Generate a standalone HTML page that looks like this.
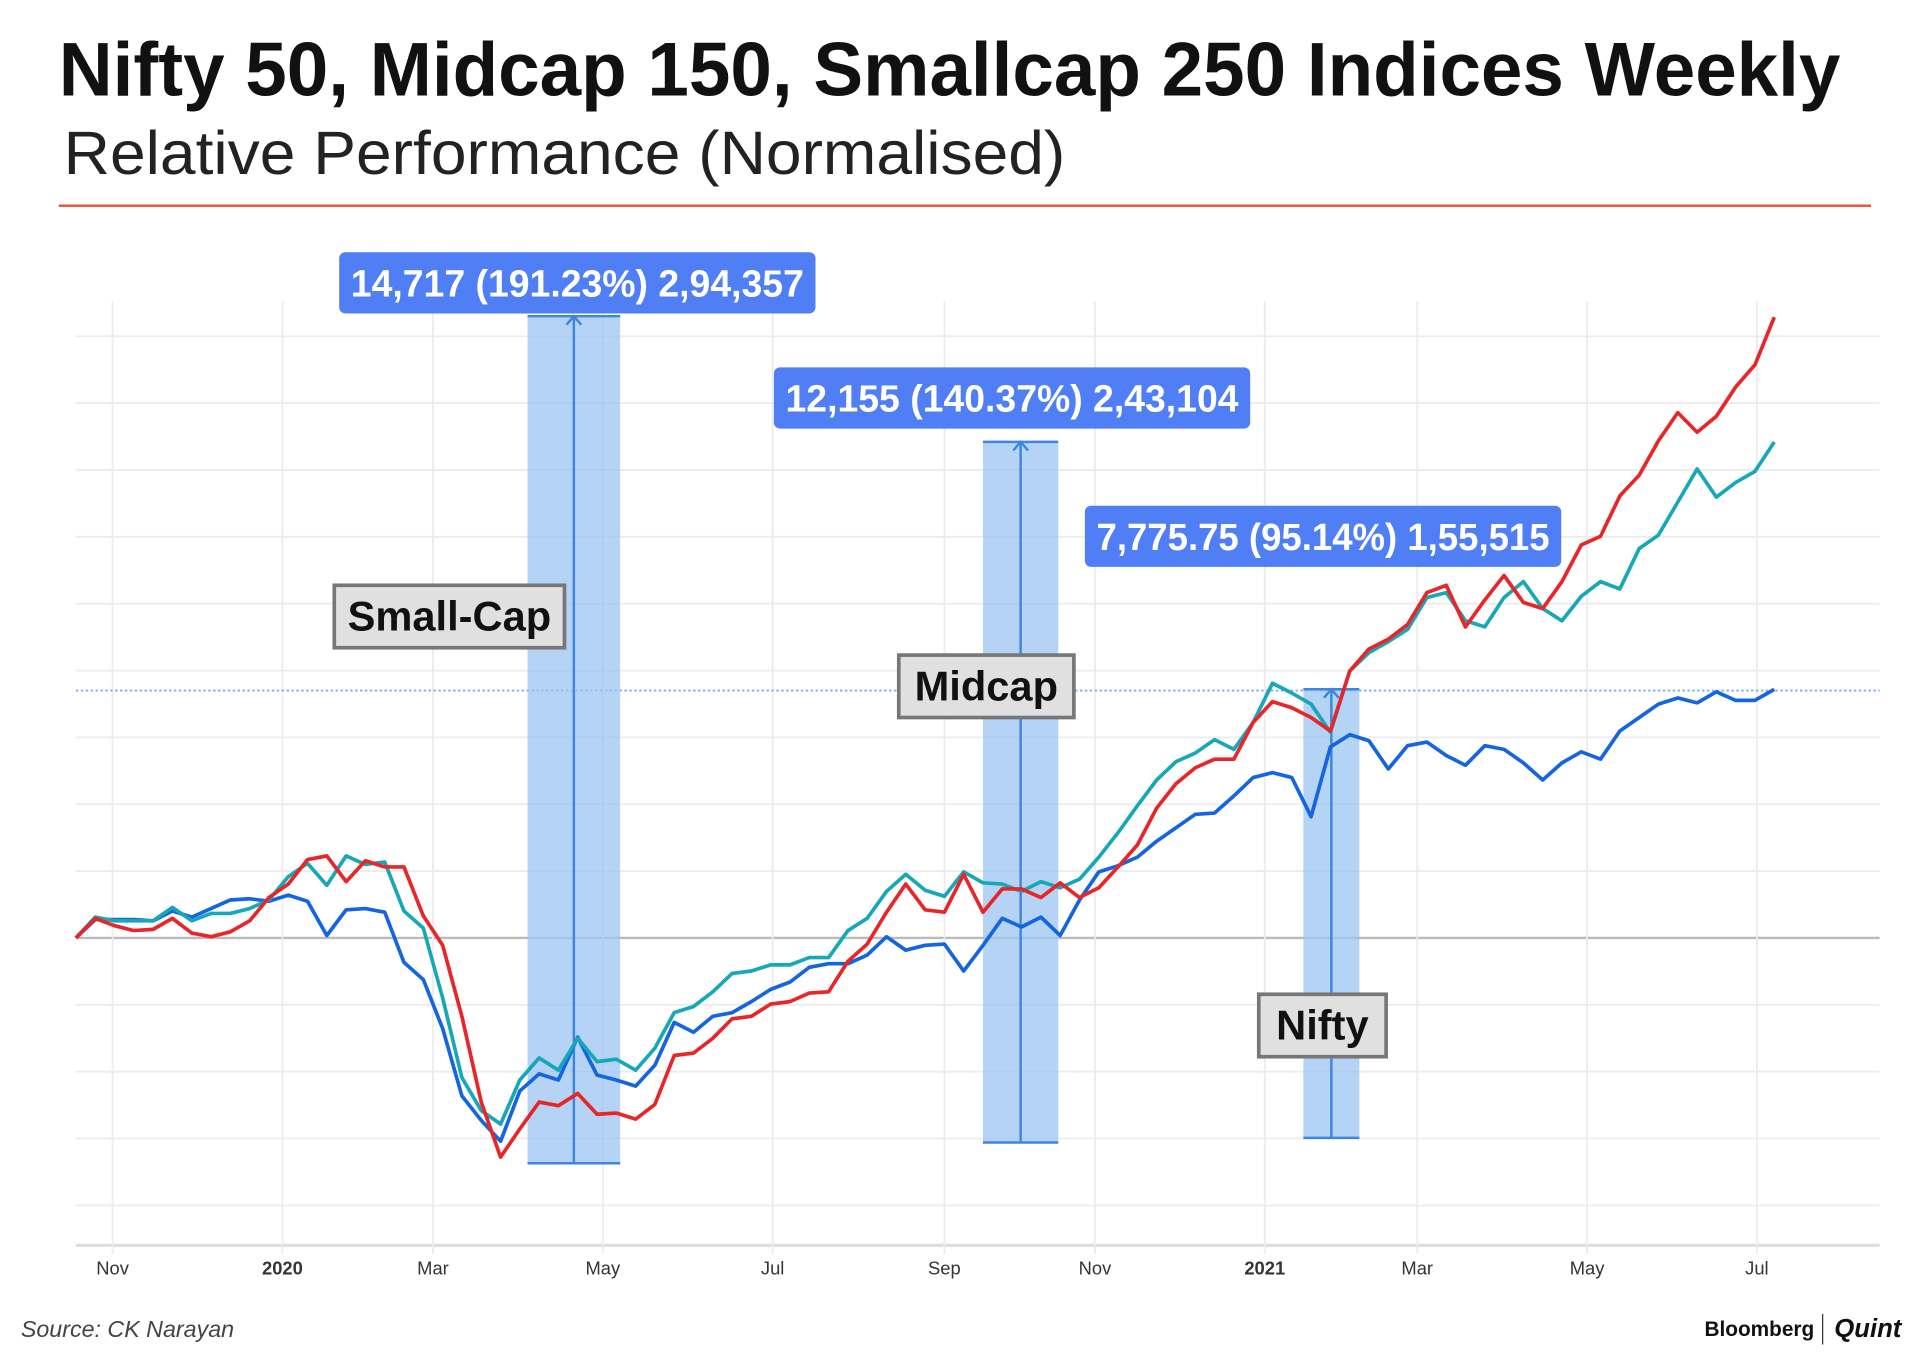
<!DOCTYPE html>
<html><head><meta charset="utf-8"><style>
html,body{margin:0;padding:0;background:#fff;}
svg{display:block;}
text{font-family:"Liberation Sans",sans-serif;}
</style></head><body>
<svg id="chart" width="1920" height="1355" viewBox="0 0 1568 1106.6" xmlns="http://www.w3.org/2000/svg">
<text x="48" y="78" font-size="62" font-weight="bold" fill="#111" textLength="1455" lengthAdjust="spacingAndGlyphs">Nifty 50, Midcap 150, Smallcap 250 Indices Weekly</text>
<text x="52" y="142" font-size="50" fill="#222" textLength="818" lengthAdjust="spacingAndGlyphs">Relative Performance (Normalised)</text>
<rect x="48" y="167" width="1480" height="2" fill="#e8553a"/>
<g id="grid"></g>
<g id="bands"></g>
<g id="lines"></g>
<g id="labels"></g>
<text x="17" y="1092" font-size="19" font-style="italic" fill="#444">Source: CK Narayan</text>
<text x="1392" y="1091" font-size="17" font-weight="bold" fill="#111">Bloomberg</text>
<rect x="1488" y="1073" width="1" height="25" fill="#333"/>
<text x="1498" y="1092" font-size="21" font-style="italic" font-weight="bold" font-family="Liberation Serif" fill="#111">Quint</text>
</svg>
<script>
const xTicks = ["Nov","2020","Mar","May","Jul","Sep","Nov","2021","Mar","May","Jul"];
const xTickIdx = [1.9,10.7,18.5,27.3,36.1,45,52.8,61.6,69.5,78.3,87.1];
const smallcap = [766,750,756,760,759,750,762,765,761,752,733,722,702,699,720,703,708,708,748,772,830,900,945,922,900,903,893,910,909,914,902,862,860,848,832,830,820,818,811,810,785,771,745,722,743,745,714,745,726,726,733,721,733,725,708,690,660,640,627,620,620,590,573,578,586,597,548,530,522,510,484,478,512,490,470,492,497,475,445,438,405,388,360,337,353,340,316,298,259];
const midcap = [766,749,752,752,752,741,752,746,746,742,735,716,705,723,699,706,704,744,758,815,880,907,918,882,864,874,848,867,865,874,856,827,822,810,795,793,788,788,782,782,760,750,728,714,727,732,712,721,722,728,720,725,718,700,680,658,637,622,615,604,612,590,558,566,575,598,548,533,524,514,488,484,507,512,488,475,497,507,487,475,481,448,437,410,383,406,394,385,361];
const nifty = [766,751,751,751,752,744,749,742,735,734,736,731,736,764,743,742,745,786,800,840,895,915,932,891,877,882,847,878,882,887,870,835,843,830,827,818,808,802,790,787,787,780,765,776,772,771,793,772,750,757,749,764,735,712,707,700,687,676,665,664,650,635,631,635,667,610,600,605,628,609,606,617,625,609,612,623,637,623,614,620,597,586,575,570,574,565,572,572,563];
const toPct = a => a.map(v => (766 - v) / 5.46);
const seriesData = {smallcap: toPct(smallcap), midcap: toPct(midcap), nifty: toPct(nifty)};
const yTicks = [-40,-30,-20,-10,0,10,20,30,40,50,60,70,80,90];
const annotations = [
  {text:"14,717 (191.23%) 2,94,357", i0:23.4, i1:28.2, v0:-33.7, v1:93},
  {text:"12,155 (140.37%) 2,43,104", i0:47, i1:50.9, v0:-30.6, v1:74.2},
  {text:"7,775.75 (95.14%) 1,55,515", i0:63.6, i1:66.5, v0:-29.9, v1:37.2}
];
const labelPos = [{x:277,y:206},{x:632,y:300},{x:886,y:413}];
const boxes = [{t:"Small-Cap",x:273,y:478,w:188},{t:"Midcap",x:734,y:535,w:143},{t:"Nifty",x:1028,y:812,w:104}];
const NS="http://www.w3.org/2000/svg";
const X0=62, X1=1449, N=89;
const xs = i => X0 + (X1-X0)*i/(N-1);
const ys = v => 766 - v*5.46;
function mk(tag, attrs, parent){const e=document.createElementNS(NS,tag);for(const k in attrs)e.setAttribute(k,attrs[k]);parent.appendChild(e);return e;}
const grid=document.getElementById('grid');
yTicks.forEach(v=>{
  const l=mk('line',{x1:62,x2:1535,y1:ys(v),y2:ys(v),stroke:v===0?'#bbb':'#ececec','stroke-width':v===0?2:1.5},grid);
  
  
});
const bottom=mk('line',{x1:62,x2:1535,y1:1017,y2:1017,stroke:'#ddd','stroke-width':2.5},grid);


xTicks.forEach((t,k)=>{
  const x=xs(xTickIdx[k]);
  const l=mk('line',{x1:x,x2:x,y1:246,y2:1024,stroke:'#ececec','stroke-width':1.5},grid);
  
  
  const tx=mk('text',{x:x,y:1041,'text-anchor':'middle','font-size':15,fill:'#333','font-weight':(t.length===4?'bold':'normal')},grid);
  tx.textContent=t;
  
  
});
const dl=mk('line',{x1:62,x2:1535,y1:564,y2:564,stroke:'#7fb0ee','stroke-width':1.5,'stroke-dasharray':'2 2'},grid);


const bands=document.getElementById('bands');
annotations.forEach(a=>{
  const xa=xs(a.i0), xb=xs(a.i1), yt=ys(a.v1), yb=ys(a.v0), xm=(xa+xb)/2;
  const r=mk('rect',{x:xa,y:yt,width:xb-xa,height:yb-yt,fill:'#9cc4f2','fill-opacity':0.75},bands);
  
  
  [yt,yb].forEach(y=>{const l=mk('line',{x1:xa,x2:xb,y1:y,y2:y,stroke:'#3d86e0','stroke-width':2},bands);
    
    });
  const v=mk('path',{d:`M${xm},${yb}L${xm},${yt}M${xm-6},${yt+7}L${xm},${yt}L${xm+6},${yt+7}`,stroke:'#3d86e0','stroke-width':2,fill:'none'},bands);
  
  
});
const lines=document.getElementById('lines');
[['nifty','#1565e0'],['midcap','#17a8b8'],['smallcap','#e8262a']].forEach(([k,c])=>{
  const d=seriesData[k].map((v,i)=>(i?'L':'M')+xs(i).toFixed(1)+','+ys(v).toFixed(1)).join('');
  const p=mk('path',{d:d,stroke:c,'stroke-width':3,fill:'none','stroke-linejoin':'round'},lines);
  
  
});
const labels=document.getElementById('labels');
annotations.forEach((a,k)=>{
  const lx=labelPos[k].x, ly=labelPos[k].y;
  const r=mk('rect',{x:lx,y:ly,width:389,height:50,rx:5,fill:'#4f7ef5'},labels);
  
  
  const t=mk('text',{x:lx+194.5,y:ly+36,'text-anchor':'middle','font-size':31,'font-weight':'bold',fill:'#fff',textLength:370,lengthAdjust:'spacingAndGlyphs'},labels);
  t.textContent=a.text;
  
  
});
boxes.forEach(b=>{
  const r=mk('rect',{x:b.x,y:b.y,width:b.w,height:51,fill:'#e0e0e0',stroke:'#777','stroke-width':3},labels);
  
  
  const t=mk('text',{x:b.x+b.w/2,y:b.y+37,'text-anchor':'middle','font-size':34,'font-weight':'bold',fill:'#111'},labels);
  t.textContent=b.t;
  
  
});
</script>
</body></html>
